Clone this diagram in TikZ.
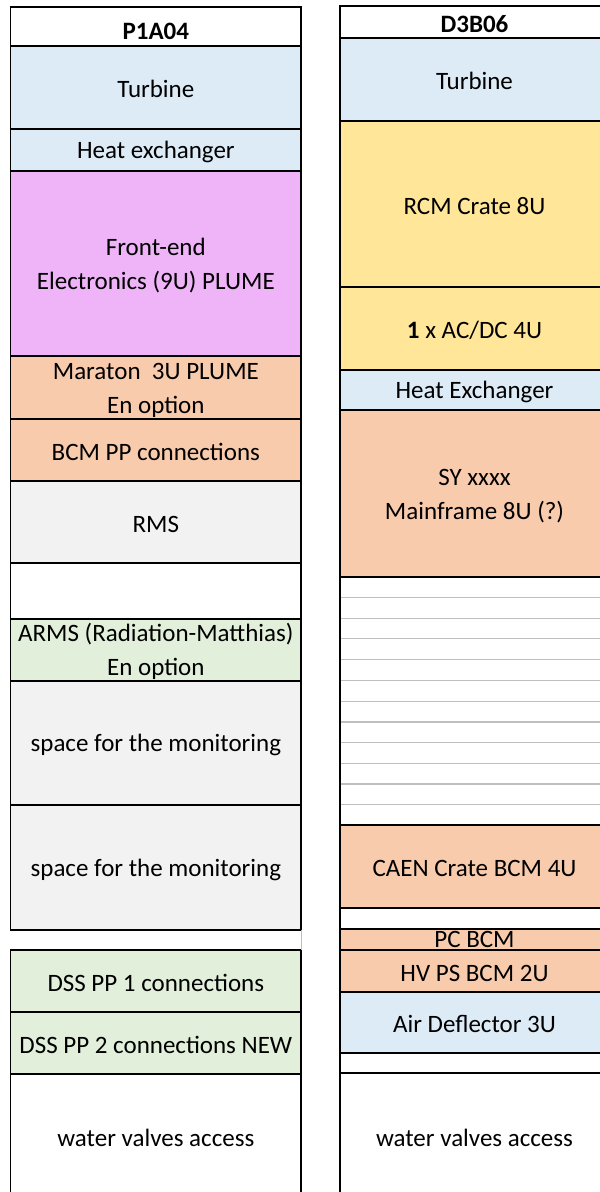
\documentclass[tikz,border=0pt]{standalone}
\usepackage{fontspec}
\setmainfont{Carlito}
\definecolor{cblue}{HTML}{DDEBF7}
\definecolor{corange}{HTML}{F8CBAD}
\definecolor{cyellow}{HTML}{FFE699}
\definecolor{cgreen}{HTML}{E2EFDA}
\definecolor{cgray}{HTML}{F2F2F2}
\definecolor{cpurple}{HTML}{EEB4F7}
\definecolor{cline}{HTML}{BFBFBF}
\newcommand\lh{\rule[-2pt]{0pt}{24pt}}
% \rk[options]{name}{x1}{y1}{x2}{y2}{fill}{text}
\newcommand\rk[8][]{%
  \node[cellbox, fill=#7, minimum width={(#5-#3)*1pt}, minimum height={(#6-#4)*1pt}, #1]
    (#2) at ({(#3+#5)/2},{(#4+#6)/2}) {\lh#8\lh};}
% empty cell
\newcommand\rke[6]{%
  \node[cellbox, fill=#6, minimum width={(#4-#2)*1pt}, minimum height={(#5-#3)*1pt}]
    (#1) at ({(#2+#4)/2},{(#3+#5)/2}) {};}
\begin{document}
\begin{tikzpicture}[x=1pt,y=-1pt,
  cellbox/.style={draw=black, line width=1.5pt, inner sep=0pt, outer sep=0pt,
    text=black, align=center, font=\fontsize{25}{34}\selectfont},
  gridline/.style={draw=cline, line width=1.5pt}]
\useasboundingbox (0,0) rectangle (600,1192);
\clip (0,0) rectangle (600,1192);
\fill[white] (0,0) rectangle (600,1192);
% ---------- left rack P1A04 ----------
\rke{hdrL}{10.7}{7}{301}{46}{white}
\node[font=\fontsize{25}{34}\selectfont\bfseries, inner sep=0pt] (hdrLtext) at (155.8,31) {P1A04};
\rk{turbL}{10.7}{46}{301}{129}{cblue}{Turbine}
\rk{heatL}{10.7}{129}{301}{171}{cblue}{Heat exchanger}
\rk{feL}{10.7}{171}{301}{356}{cpurple}{Front-end\\Electronics (9U) PLUME}
\rk{marL}{10.7}{356}{301}{419}{corange}{Maraton\ \ 3U PLUME\\En option}
\rk{bcmL}{10.7}{419}{301}{481}{corange}{BCM PP connections}
\rk{rmsL}{10.7}{481}{301}{563}{cgray}{RMS}
\rke{blankL}{10.7}{563}{301}{619}{white}
\rk{armsL}{10.7}{619}{301}{681}{cgreen}{ARMS (Radiation-Matthias)\\En option}
\rk{monA}{10.7}{681}{301}{805}{cgray}{space for the monitoring}
\rk{monB}{10.7}{805}{301}{930}{cgray}{space for the monitoring}
\rk{dssA}{10.7}{950}{301}{1012}{cgreen}{DSS PP 1 connections}
\rk{dssB}{10.7}{1012}{301}{1074}{cgreen}{DSS PP 2 connections NEW}
\rk{wvL}{10.7}{1074}{301}{1198}{white}{water valves access}
\coordinate (gapTop) at (monB.south east);
\coordinate (gapBot) at (dssA.north east);
\draw[draw=cline, line width=1pt] (gapTop) -- (gapBot);
% ---------- right rack D3B06 ----------
\rk{hdrR}{340}{6}{609}{38}{white}{\textbf{D3B06}}
\rk{turbR}{340}{38}{609}{121}{cblue}{Turbine}
\rk{rcm}{340}{121}{609}{287}{cyellow}{RCM Crate 8U}
\rk{acdc}{340}{287}{609}{370}{cyellow}{\textbf{1} x AC/DC 4U}
\rk{heatR}{340}{370}{609}{410}{cblue}{Heat Exchanger}
\rk{sy}{340}{410}{609}{577}{corange}{SY xxxx\\Mainframe 8U (?)}
\rke{gapR}{340}{577}{609}{825}{white}
\rk{caen}{340}{825}{609}{908}{corange}{CAEN Crate BCM 4U}
\rke{blankRa}{340}{908}{609}{929}{white}
\node[cellbox, fill=corange, minimum width=269pt, minimum height=21pt]
  (pcbcm) at (474.5,939.5) {PC BCM};
\rk{hvps}{340}{950}{609}{992}{corange}{HV PS BCM 2U}
\rk{air}{340}{992}{609}{1053}{cblue}{Air Deflector 3U}
\rke{blankRb}{340}{1053}{609}{1073}{white}
\rk{wvR}{340}{1073}{609}{1199}{white}{water valves access}
\foreach \yy in {597.3,618.7,638.7,659.3,680.7,701.3,722,742.7,763.3,784,804.7}
  \draw[gridline] (341,\yy) -- (609,\yy);
\draw[line width=1.5pt] (gapR.north west) -- (gapR.south west);
\end{tikzpicture}
\end{document}
